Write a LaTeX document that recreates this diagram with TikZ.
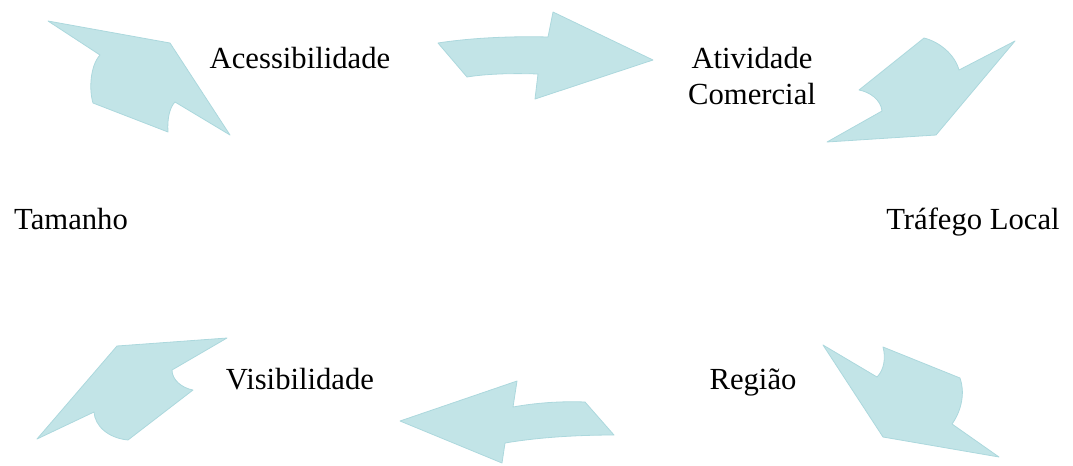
\documentclass[tikz,border=0pt]{standalone}
\usepackage{fontspec}
\setmainfont{Liberation Serif}
\definecolor{seta}{RGB}{194,228,231}
\definecolor{setaborda}{RGB}{172,216,221}
\begin{document}
\begin{tikzpicture}[x=0.75pt,y=-0.75pt,
    every node/.style={font=\fontsize{23}{27}\selectfont,inner sep=0pt},
    seta/.style={fill=seta,draw=setaborda,line width=0.6pt,line join=round}]
      \useasboundingbox (0,0) rectangle (1073,465);
      \draw
        (71,229) node[anchor=base] (0){Tamanho}
        (300,68) node[anchor=base] (1){Acessibilidade}
        (752,76) node[align=center] (2){Atividade\\Comercial}
        (973,229) node[anchor=base] (3){Tráfego Local}
        (753,389) node[anchor=base] (4){Região}
        (300,389) node[anchor=base] (5){Visibilidade};
      \begin{scope}
        \draw[seta] (170,43) -- (230,135) -- (175,102) .. controls (170,107) and (167,118) .. (168,132)
          -- (93,103) .. controls (89,90) and (90,66) .. (100,55) -- (48,21) -- cycle;
        \draw[seta] (653,60) -- (535,99) -- (538,74) .. controls (510,73) and (485,74) .. (467,77)
          -- (438,43) .. controls (470,38) and (510,36) .. (548,37) -- (553,12) -- cycle;
        \draw[seta] (936,135) -- (827,142) -- (882,111) .. controls (881,100) and (870,92) .. (859,90)
          -- (924,38) .. controls (940,42) and (955,55) .. (959,70) -- (1015,41) -- cycle;
        \draw[seta] (883,437) -- (823,345) -- (877,377) .. controls (884,370) and (886,358) .. (883,347)
          -- (960,378) .. controls (965,392) and (962,410) .. (952,424) -- (999,457) -- cycle;
        \draw[seta] (400,421) -- (517,381) -- (513,407) .. controls (535,403) and (560,401) .. (585,402)
          -- (614,435) .. controls (580,435) and (540,437) .. (505,443) -- (502,463) -- cycle;
        \draw[seta] (117,346) -- (37,439) -- (94,412) .. controls (95,426) and (108,438) .. (128,440)
          -- (193,390) .. controls (182,388) and (172,380) .. (172,370) -- (227,338) -- cycle;
      \end{scope}
    \end{tikzpicture}
\end{document}
